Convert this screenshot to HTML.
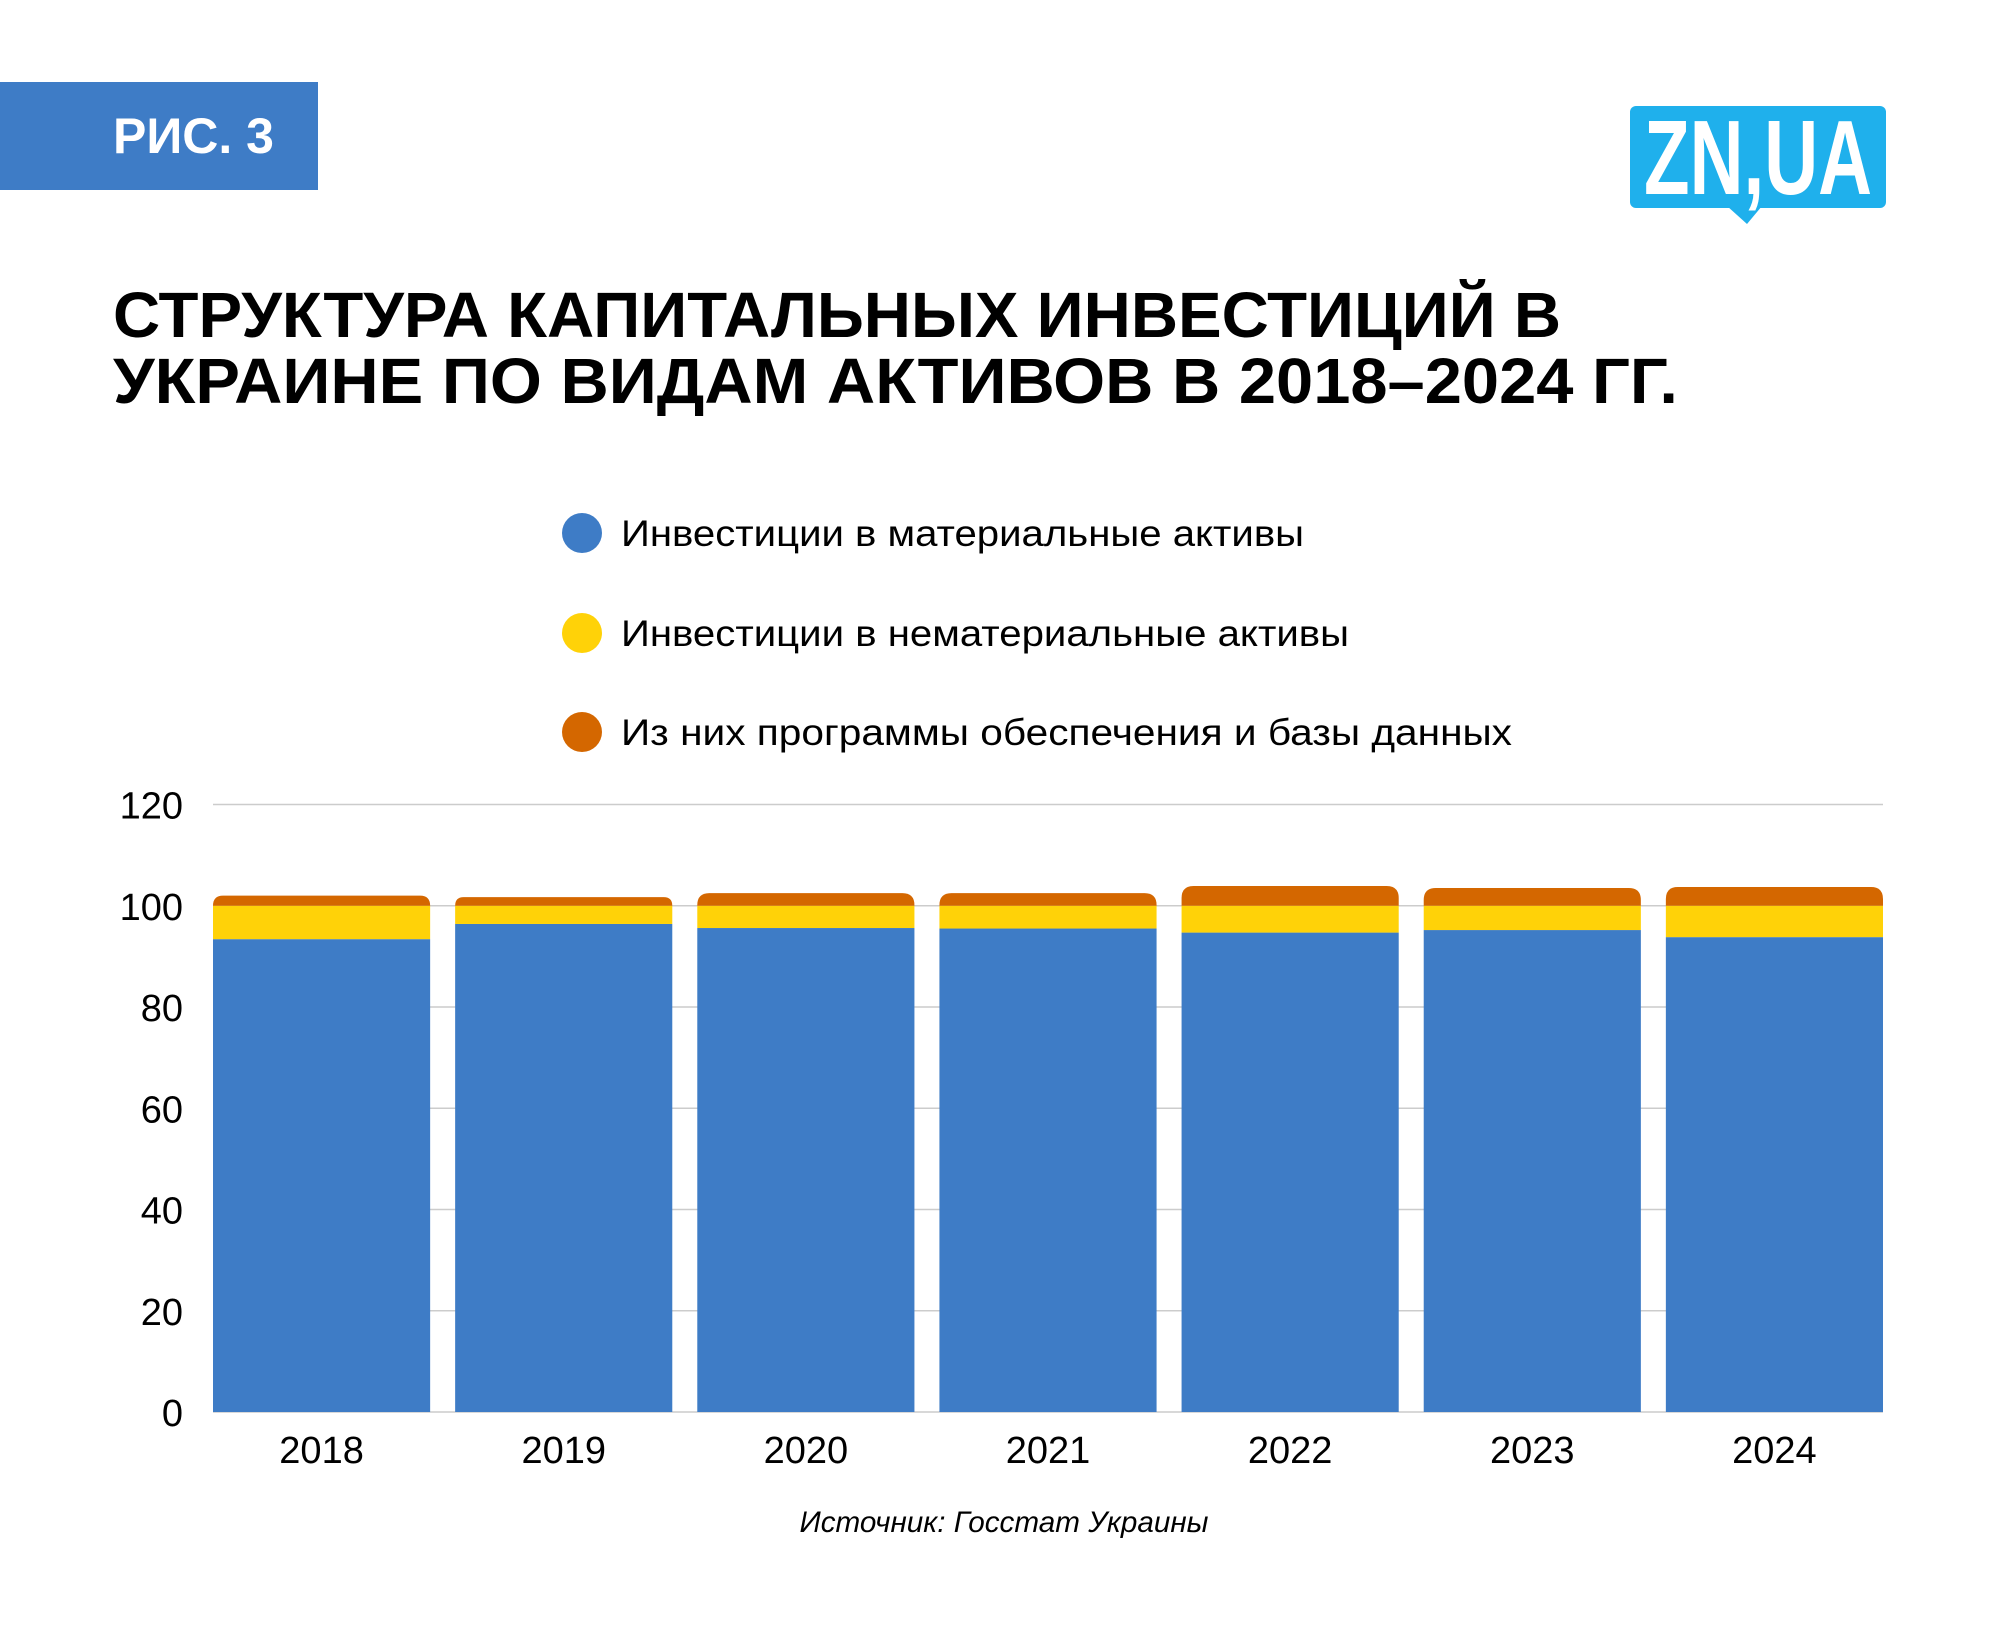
<!DOCTYPE html>
<html><head><meta charset="utf-8"><style>
html,body{margin:0;padding:0;background:#fff}
svg{display:block}
text{font-family:"Liberation Sans","Noto Sans CJK SC",sans-serif}
</style></head><body>
<svg id="chart" width="2000" height="1633" viewBox="0 0 2000 1633" xmlns="http://www.w3.org/2000/svg">
  <rect x="0" y="82" width="318" height="108" fill="#3e7cc6"/>
  <text x="113" y="153" font-size="50" font-weight="bold" fill="#fff">РИС. 3</text>
  <g transform="translate(-8,0)">
    <rect x="1638" y="106" width="256" height="102" rx="6" fill="#1fb0ec"/>
    <path d="M1735 206 L1755 224 L1770 206 Z" fill="#1fb0ec"/>
    <text x="1652" y="194" font-size="106" font-weight="bold" fill="#fff" textLength="228" lengthAdjust="spacingAndGlyphs">ZN,UA</text>
  </g>
  <text x="113" y="337" font-size="64" font-weight="bold" fill="#000" textLength="1448" lengthAdjust="spacingAndGlyphs">СТРУКТУРА КАПИТАЛЬНЫХ ИНВЕСТИЦИЙ В</text>
  <text x="113" y="403" font-size="64" font-weight="bold" fill="#000" textLength="1565" lengthAdjust="spacingAndGlyphs">УКРАИНЕ ПО ВИДАМ АКТИВОВ В 2018–2024 ГГ.</text>
  <g id="legend"></g>
  <g id="grid"></g>
  <g id="bars"></g>
  <g id="labels"></g>
  <text x="1004" y="1532" font-size="30" font-style="italic" text-anchor="middle" fill="#000" textLength="409" lengthAdjust="spacingAndGlyphs">Источник: Госстат Украины</text>
</svg>
<script>
const categories = ['2018','2019','2020','2021','2022','2023','2024'];
const tangible = [93.4, 96.4, 95.6, 95.5, 94.7, 95.2, 93.8];
const intangible = [6.6, 3.6, 4.4, 4.5, 5.3, 4.8, 6.2];
const software = [2.0, 1.7, 2.5, 2.5, 3.9, 3.5, 3.7];
const yTicks = [0, 20, 40, 60, 80, 100, 120];
const seriesNames = ['Инвестиции в материальные активы','Инвестиции в нематериальные активы','Из них программы обеспечения и базы данных'];
const seriesColors = ['#3e7cc6','#ffd208','#d46700'];

const NS = 'http://www.w3.org/2000/svg';
const plotL = 213, plotR = 1883, y0 = 1412, yTop = 804.5, yMax = 120, gap = 25;
const n = categories.length;
const band = (plotR - plotL + gap) / n;
const bw = band - gap;
function yS(v){ return y0 - (v / yMax) * (y0 - yTop); }
function xS(i){ return plotL + i * band; }
function mk(tag, attrs, parent){ const e = document.createElementNS(NS, tag); for (const k in attrs) e.setAttribute(k, attrs[k]); parent.appendChild(e); return e; }

const grid = document.getElementById('grid');
const labels = document.getElementById('labels');
yTicks.forEach(t => {
  const l = mk('line', {x1: plotL, x2: plotR, y1: yS(t), y2: yS(t), stroke: '#cccccc', 'stroke-width': 1.5}, grid);
  
  
  const tx = mk('text', {x: 183, y: yS(t) + 14, 'font-size': 38, 'text-anchor': 'end', fill: '#000'}, labels);
  tx.textContent = t;
  
  
});

const bars = document.getElementById('bars');
categories.forEach((c, i) => {
  const x = xS(i);
  const b = mk('rect', {x: x, y: yS(tangible[i]), width: bw, height: y0 - yS(tangible[i]), fill: seriesColors[0]}, bars);
  
  
  const top1 = tangible[i] + intangible[i];
  const yb = mk('rect', {x: x, y: yS(top1), width: bw, height: yS(tangible[i]) - yS(top1), fill: seriesColors[1]}, bars);
  
  
  const yt = yS(top1 + software[i]), yB = yS(top1), r = Math.min(12, yB - yt);
  const d = `M${x} ${yB} L${x} ${yt + r} Q${x} ${yt} ${x + r} ${yt} L${x + bw - r} ${yt} Q${x + bw} ${yt} ${x + bw} ${yt + r} L${x + bw} ${yB} Z`;
  const o = mk('path', {d: d, fill: seriesColors[2]}, bars);
  
  
  const tx = mk('text', {x: x + bw / 2, y: 1463, 'font-size': 38, 'text-anchor': 'middle', fill: '#000'}, labels);
  tx.textContent = c;
  
  
});

const legend = document.getElementById('legend');
const legendY = [533, 633, 732];
const legendLen = [683, 728, 891];
seriesNames.forEach((s, i) => {
  const g = mk('g', {}, legend);
  
  
  mk('circle', {cx: 582, cy: legendY[i], r: 20, fill: seriesColors[i]}, g);
  const t = mk('text', {x: 621, y: legendY[i] + 13, 'font-size': 37, fill: '#000', textLength: legendLen[i], lengthAdjust: 'spacingAndGlyphs'}, g);
  t.textContent = s;
});
</script>
</body></html>
